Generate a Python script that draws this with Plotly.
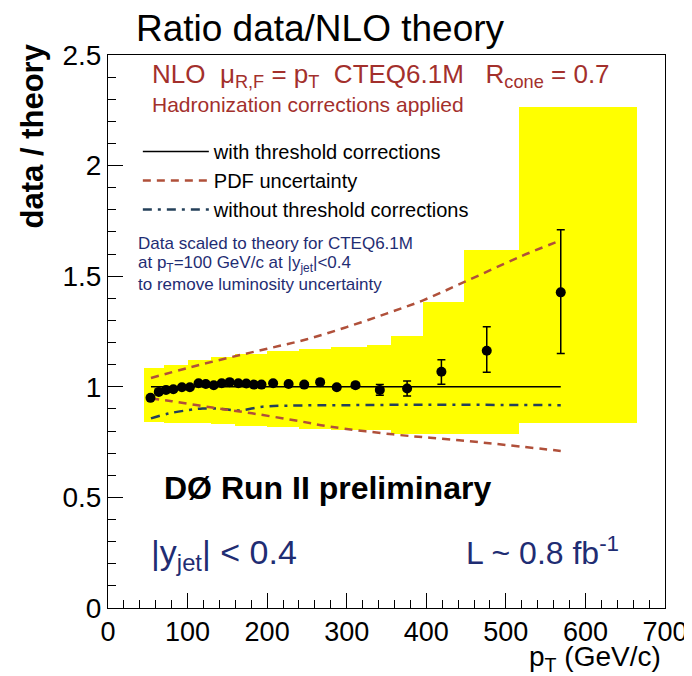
import numpy as np
import plotly.graph_objects as go

# data points: jet pT (GeV/c) and data/theory ratio
pt = [53.4, 63.8, 72.9, 82.1, 92.9, 102.9, 113.8, 122.9, 132.9, 142.9, 152.9,
      163.8, 173.8, 183.4, 192.9, 207.5, 227.0, 246.6, 266.6, 287.5, 311.0,
      341.6, 375.9, 419.0, 476.0, 569.0]
ratio = [0.950, 0.977, 0.986, 0.989, 0.998, 0.998, 1.016, 1.013, 1.007, 1.016, 1.021,
         1.016, 1.015, 1.010, 1.010, 1.016, 1.013, 1.010, 1.021, 0.998, 1.007,
         0.986, 0.992, 1.068, 1.163, 1.427]
err_up = [0.004, 0.004, 0.004, 0.004, 0.004, 0.004, 0.004, 0.004, 0.004, 0.004, 0.004,
          0.005, 0.005, 0.005, 0.005, 0.006, 0.006, 0.007, 0.008, 0.009, 0.012,
          0.024, 0.034, 0.054, 0.108, 0.283]
err_dn = [0.004, 0.004, 0.004, 0.004, 0.004, 0.004, 0.004, 0.004, 0.004, 0.004, 0.004,
          0.005, 0.005, 0.005, 0.005, 0.006, 0.006, 0.007, 0.008, 0.009, 0.012,
          0.024, 0.034, 0.056, 0.097, 0.277]

# experimental systematic uncertainty band (step per pT bin)
band_edges = [45, 70, 100, 130, 160, 200, 240, 280, 325, 356, 396, 448, 517, 665]
band_upper = [1.085, 1.10, 1.12, 1.135, 1.15, 1.16, 1.17, 1.18, 1.19, 1.23, 1.385, 1.617, 2.264]
band_lower = [0.84, 0.838, 0.835, 0.83, 0.825, 0.82, 0.81, 0.805, 0.805, 0.785, 0.785, 0.785, 0.835]

# theory curves
thr_pt = [54, 569]
thr_y = [1.0, 1.0]
pdf_up_pt = [54, 100, 150, 200, 250, 300, 350, 396, 448, 517, 569]
pdf_up_y = [1.04, 1.085, 1.13, 1.172, 1.215, 1.27, 1.331, 1.391, 1.474, 1.587, 1.662]
pdf_dn_pt = [54, 80, 131, 181, 240, 279, 358, 420, 479, 569]
pdf_dn_y = [0.947, 0.935, 0.906, 0.880, 0.845, 0.820, 0.785, 0.765, 0.745, 0.710]
nothr_pt = [54, 77, 102, 119, 144, 165, 194, 227, 300, 400, 500, 569]
nothr_y = [0.857, 0.880, 0.895, 0.902, 0.900, 0.893, 0.910, 0.915, 0.917, 0.919, 0.918, 0.917]

RED = "#a3302c"
NAVY = "#1f2d73"
PDF_COLOR = "#b0503a"
DASHDOT_COLOR = "#24405a"

W, H = 692, 676
ML, MR, MT, MB = 100, 32, 47, 76


def xp(px):
    return (px - ML) / (W - ML - MR)


def yp(py):
    return (H - MB - py) / (H - MT - MB)


edges = np.array(band_edges, dtype=float)
lo = np.array(band_lower)
hi = np.array(band_upper)

fig = go.Figure()

fig.add_trace(go.Bar(
    x=(edges[:-1] + edges[1:]) / 2,
    y=hi - lo,
    base=lo,
    width=np.diff(edges),
    marker=dict(color="#ffff00", line=dict(width=0)),
    showlegend=False,
    hoverinfo="skip",
))

fig.add_trace(go.Scatter(
    x=thr_pt, y=thr_y, mode="lines",
    line=dict(color="black", width=1.5),
    name="with threshold corrections",
))
fig.add_trace(go.Scatter(
    x=pdf_up_pt, y=pdf_up_y, mode="lines", line_shape="spline",
    line=dict(color=PDF_COLOR, width=2.5, dash="8px,6px"),
    name="PDF uncertainty",
))
fig.add_trace(go.Scatter(
    x=nothr_pt, y=nothr_y, mode="lines", line_shape="spline",
    line=dict(color=DASHDOT_COLOR, width=2.5, dash="9px,6px,3px,6px"),
    name="without threshold corrections",
))
fig.add_trace(go.Scatter(
    x=pdf_dn_pt, y=pdf_dn_y, mode="lines", line_shape="spline",
    line=dict(color=PDF_COLOR, width=2.5, dash="8px,6px"),
    showlegend=False,
))

fig.add_trace(go.Scatter(
    x=pt, y=ratio, mode="markers",
    marker=dict(color="black", size=10),
    error_y=dict(type="data", symmetric=False, array=err_up, arrayminus=err_dn,
                 color="black", thickness=1.5, width=4),
    showlegend=False,
))

annotations = [
    dict(text="NLO  μ<sub>R,F</sub> = p<sub>T</sub>  CTEQ6.1M   R<sub>cone</sub> = 0.7",
         x=xp(142), y=yp(68), font=dict(size=26, color=RED)),
    dict(text="Hadronization corrections applied",
         x=xp(142), y=yp(97), font=dict(size=21, color=RED)),
    dict(text="Data scaled to theory for CTEQ6.1M",
         x=xp(128), y=yp(235), font=dict(size=17, color=NAVY)),
    dict(text="at p<sub>T</sub>=100 GeV/c at |y<sub>jet</sub>|<0.4",
         x=xp(128), y=yp(256), font=dict(size=17, color=NAVY)),
    dict(text="to remove luminosity uncertainty",
         x=xp(128), y=yp(276), font=dict(size=17, color=NAVY)),
    dict(text="<b>DØ Run II preliminary</b>",
         x=xp(154), y=yp(480), font=dict(size=32, color="black")),
    dict(text="|y<sub>jet</sub>| < 0.4",
         x=xp(141), y=yp(546), font=dict(size=34, color=NAVY)),
    dict(text="L ~ 0.8 fb<sup>-1</sup>",
         x=xp(458), y=yp(543), font=dict(size=32, color=NAVY)),
]
for a in annotations:
    a.update(xref="paper", yref="paper", xanchor="left", yanchor="middle", showarrow=False)

annotations.append(dict(
    text="<b>data / theory</b>", textangle=-90,
    x=xp(24), y=yp(128), xref="paper", yref="paper",
    xanchor="center", yanchor="middle", showarrow=False,
    font=dict(size=31, color="black"),
))
annotations.append(dict(
    text="p<sub>T</sub> (GeV/c)",
    x=xp(658), y=yp(650), xref="paper", yref="paper",
    xanchor="right", yanchor="middle", showarrow=False,
    font=dict(size=28, color="black"),
))

fig.update_layout(
    width=W, height=H,
    margin=dict(l=ML, r=MR, t=MT, b=MB),
    paper_bgcolor="white",
    plot_bgcolor="white",
    font=dict(family="Liberation Sans, Arial, sans-serif", color="black"),
    title=dict(text="Ratio data/NLO theory", x=312 / W, y=1 - 20 / H,
               xanchor="center", yanchor="middle", xref="container", yref="container",
               font=dict(size=37, color="black")),
    showlegend=True,
    legend=dict(x=xp(130), y=yp(124), xanchor="left", yanchor="top",
                bgcolor="rgba(0,0,0,0)", itemwidth=66,
                font=dict(size=20, color="black")),
    annotations=annotations,
    bargap=0,
    xaxis=dict(range=[0, 700], tick0=0, dtick=100, ticks="inside", ticklen=15,
               tickcolor="black", showline=True, linecolor="black", linewidth=1,
               mirror=True, showgrid=False, zeroline=False,
               minor=dict(dtick=20, ticks="inside", ticklen=8, tickcolor="black"),
               tickfont=dict(size=27)),
    yaxis=dict(range=[0, 2.5], tick0=0, dtick=0.5, ticks="inside", ticklen=15,
               tickcolor="black", showline=True, linecolor="black", linewidth=1,
               mirror=True, showgrid=False, zeroline=False,
               minor=dict(dtick=0.1, ticks="inside", ticklen=8, tickcolor="black"),
               tickfont=dict(size=28)),
)

fig.write_html("out.html")
